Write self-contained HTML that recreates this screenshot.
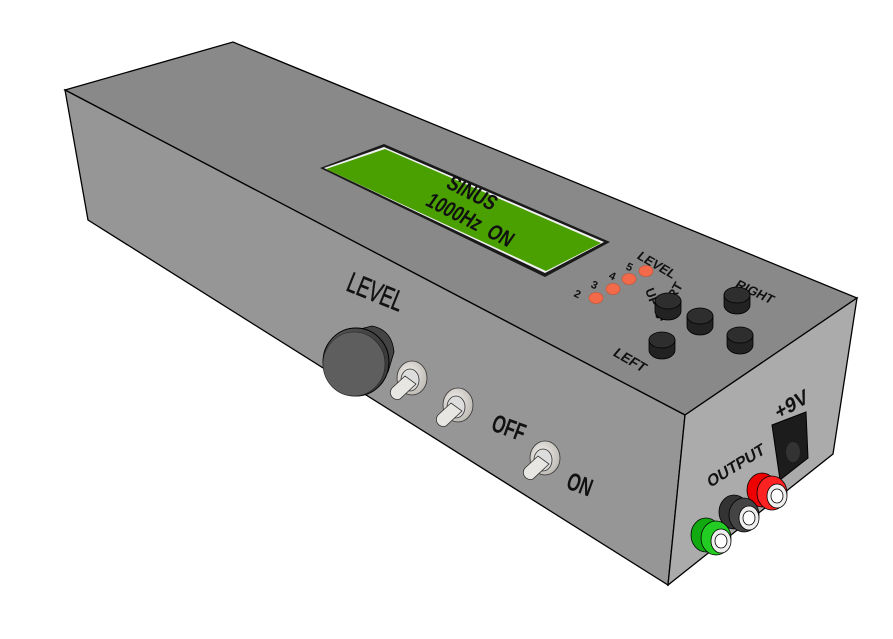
<!DOCTYPE html>
<html><head><style>html,body{margin:0;padding:0;background:#fff}svg{display:block}</style></head>
<body>
<svg width="893" height="639" viewBox="0 0 893 639" xmlns="http://www.w3.org/2000/svg" font-family="Liberation Sans, sans-serif">
<defs>
<linearGradient id="kn" x1="0" y1="0" x2="1" y2="0"><stop offset="0" stop-color="#5a5a5a"/><stop offset="1" stop-color="#3a3a3a"/></linearGradient>
<radialGradient id="tg" cx="0.4" cy="0.4" r="0.7"><stop offset="0" stop-color="#f4f2ee"/><stop offset="1" stop-color="#b8b4ae"/></radialGradient>
</defs>
<polygon points="65,90 233,42 857,298 685,415" fill="#898989" stroke="#000" stroke-width="1.3"/>
<polygon points="65,90 685,415 668,585 88,220" fill="#969696" stroke="#000" stroke-width="1.3"/>
<polygon points="685,415 857,298 833,454 668,585" fill="#ababab" stroke="#000" stroke-width="1.3"/>
<!-- LCD -->
<polygon points="320,168 384,144 610,242 545,277" fill="#1a1a1a"/>
<polygon points="324,168 384,147 604,242 545,273" fill="#f0f0f0"/>
<polygon points="326,169 385,149 601,243 546,271" fill="#4aa000"/>
<g transform="translate(468,199) rotate(27) skewX(-8) scale(0.9,1.15)"><text x="0" y="0" font-size="19" font-weight="bold" text-anchor="middle" fill="#111">SINUS</text></g>
<g transform="translate(466,226) rotate(27) skewX(-8) scale(0.9,1.15)"><text x="0" y="0" font-size="19" font-weight="bold" text-anchor="middle" fill="#111" xml:space="preserve">1000Hz  ON</text></g>
<!-- LEDs -->
<g fill="#f26a4a" stroke="#c85030" stroke-width="0.6">
<ellipse cx="596" cy="298" rx="7" ry="5.5"/><ellipse cx="613" cy="289" rx="7" ry="5.5"/>
<ellipse cx="629" cy="279" rx="7" ry="5.5"/><ellipse cx="646" cy="271" rx="7" ry="5.5"/></g>
<g font-size="11" font-weight="bold" fill="#111">
<text x="574" y="298" transform="rotate(25 578 295)">2</text><text x="591" y="289" transform="rotate(25 595 286)">3</text>
<text x="609" y="280" transform="rotate(25 613 277)">4</text><text x="626" y="271" transform="rotate(25 630 268)">5</text></g>
<g transform="translate(636,258) rotate(30) skewX(-10)"><text font-size="13" font-weight="bold" fill="#111">LEVEL</text></g>
<g transform="translate(734,287) rotate(25) skewX(-10)"><text font-size="13" font-weight="bold" fill="#111">RIGHT</text></g>
<g transform="translate(612,355) rotate(30) skewX(-10)"><text font-size="14" font-weight="bold" fill="#111">LEFT</text></g>
<g transform="translate(645,290) rotate(70)"><text font-size="13" font-weight="bold" fill="#111">UP</text></g>
<g transform="translate(662,322) rotate(-60)"><text font-size="13" font-weight="bold" fill="#111">START</text></g>
<!-- buttons -->
<g fill="#222" stroke="#000" stroke-width="0.8">
<path d="M655,301 v10 a13,9 0 0 0 26,0 v-10z"/><ellipse cx="668" cy="301" rx="13" ry="8" fill="#2e2e2e"/>
<path d="M687,316 v10 a13,9 0 0 0 26,0 v-10z"/><ellipse cx="700" cy="316" rx="13" ry="8" fill="#2e2e2e"/>
<path d="M649,340 v10 a13,9 0 0 0 26,0 v-10z"/><ellipse cx="662" cy="340" rx="13" ry="8" fill="#2e2e2e"/>
<path d="M724,295 v10 a13,9 0 0 0 26,0 v-10z"/><ellipse cx="737" cy="295" rx="13" ry="8" fill="#2e2e2e"/>
<path d="M727,335 v10 a13,9 0 0 0 26,0 v-10z"/><ellipse cx="740" cy="335" rx="13" ry="8" fill="#2e2e2e"/></g>
<!-- LEVEL knob -->
<g transform="translate(345,290) rotate(22) scale(0.85,1.3)"><text font-size="22" fill="#111" stroke="#111" stroke-width="0.4">LEVEL</text></g>
<path d="M352,331 L372,326 Q392,330 394,352 L388,372 L362,395 Z" fill="#444" stroke="#000" stroke-width="0.8"/>
<ellipse cx="356" cy="362" rx="33" ry="34" fill="url(#kn)" stroke="#000" stroke-width="1"/>
<ellipse cx="354" cy="364" rx="31" ry="32" fill="#5e5e5e" stroke="#222" stroke-width="0.6"/>
<!-- toggles -->
<g stroke="#333" stroke-width="0.8">
<g transform="translate(412,378)"><ellipse cx="0" cy="0" rx="15" ry="17" fill="url(#tg)"/><ellipse cx="-2" cy="2" rx="9" ry="11" fill="#ddd"/><path d="M-7,-2 L-20,10 a7,7 0 0 0 8,11 L4,6z" fill="#e8e6e2"/></g>
<g transform="translate(458,405)"><ellipse cx="0" cy="0" rx="15" ry="17" fill="url(#tg)"/><ellipse cx="-2" cy="2" rx="9" ry="11" fill="#ddd"/><path d="M-7,-2 L-20,10 a7,7 0 0 0 8,11 L4,6z" fill="#e8e6e2"/></g>
<g transform="translate(545,458)"><ellipse cx="0" cy="0" rx="15" ry="17" fill="url(#tg)"/><ellipse cx="-2" cy="2" rx="9" ry="11" fill="#ddd"/><path d="M-7,-2 L-20,10 a7,7 0 0 0 8,11 L4,6z" fill="#e8e6e2"/></g></g>
<g transform="translate(490,430) rotate(20) scale(0.85,1.25)"><text font-size="20" font-weight="bold" fill="#111">OFF</text></g>
<g transform="translate(565,488) rotate(20) scale(0.85,1.25)"><text font-size="20" font-weight="bold" fill="#111">ON</text></g>
<!-- end face -->
<polygon points="772,425 806,412 808,458 780,480" fill="#1c1c1c" stroke="#000"/>
<ellipse cx="793" cy="452" rx="7" ry="10" fill="#333"/>
<g transform="translate(778,420) rotate(-30) skewX(-12)"><text font-size="20" font-weight="bold" fill="#111">+9V</text></g>
<g transform="translate(710,488) rotate(-32) skewX(-12)"><text font-size="16" font-weight="bold" fill="#111">OUTPUT</text></g>
<g stroke="#000" stroke-width="0.8">
<g transform="translate(772,490)"><ellipse cx="-10" cy="0" rx="15" ry="17" fill="#e00"/><ellipse cx="0" cy="3" rx="15" ry="17" fill="#f22"/><ellipse cx="5" cy="6" rx="10" ry="12" fill="#eee"/><ellipse cx="5" cy="6" rx="6" ry="7" fill="#fff"/></g>
<g transform="translate(744,512)"><ellipse cx="-10" cy="0" rx="15" ry="17" fill="#333"/><ellipse cx="0" cy="3" rx="15" ry="17" fill="#444"/><ellipse cx="5" cy="6" rx="10" ry="12" fill="#eee"/><ellipse cx="5" cy="6" rx="6" ry="7" fill="#fff"/></g>
<g transform="translate(716,535)"><ellipse cx="-10" cy="0" rx="15" ry="17" fill="#1a1"/><ellipse cx="0" cy="3" rx="15" ry="17" fill="#2c2"/><ellipse cx="5" cy="6" rx="10" ry="12" fill="#eee"/><ellipse cx="5" cy="6" rx="6" ry="7" fill="#fff"/></g></g>
</svg>
</body></html>
